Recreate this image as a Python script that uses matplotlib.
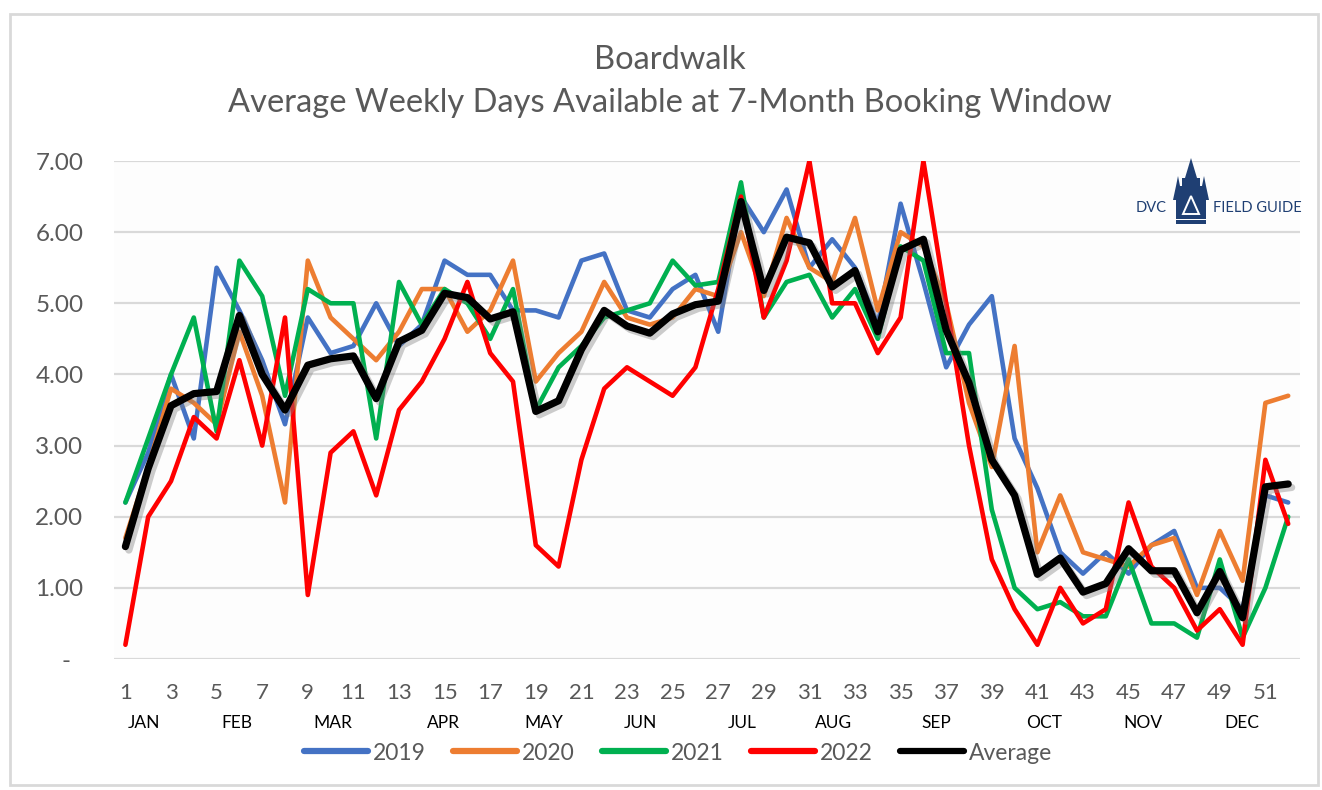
import matplotlib
matplotlib.use("Agg")
import matplotlib.pyplot as plt
import matplotlib.patheffects as pe
import matplotlib.transforms as mtransforms
from matplotlib.patches import Rectangle, Polygon

plt.rcParams['font.family'] = ['Lato', 'DejaVu Sans']

weeks = list(range(1, 53))

y2019 = [2.2, 2.9, 4.0, 3.1, 5.5, 4.9, 4.2, 3.3, 4.8, 4.3, 4.4, 5.0, 4.4, 4.7, 5.6, 5.4, 5.4,
         4.9, 4.9, 4.8, 5.6, 5.7, 4.9, 4.8, 5.2, 5.4, 4.6, 6.5, 6.0, 6.6, 5.5, 5.9, 5.5, 4.7,
         6.4, 5.3, 4.1, 4.7, 5.1, 3.1, 2.4, 1.5, 1.2, 1.5, 1.2, 1.6, 1.8, 1.0, 1.0, 0.7, 2.3, 2.2]
y2020 = [1.7, 2.7, 3.8, 3.6, 3.3, 4.6, 3.7, 2.2, 5.6, 4.8, 4.5, 4.2, 4.6, 5.2, 5.2, 4.6, 4.9,
         5.6, 3.9, 4.3, 4.6, 5.3, 4.8, 4.7, 4.8, 5.2, 5.1, 6.0, 5.1, 6.2, 5.5, 5.3, 6.2, 4.9,
         6.0, 5.8, 5.0, 3.6, 2.7, 4.4, 1.5, 2.3, 1.5, 1.4, 1.3, 1.6, 1.7, 0.9, 1.8, 1.1, 3.6, 3.7]
y2021 = [2.2, 3.1, 4.0, 4.8, 3.2, 5.6, 5.1, 3.7, 5.2, 5.0, 5.0, 3.1, 5.3, 4.7, 5.2, 5.0, 4.5,
         5.2, 3.5, 4.1, 4.4, 4.8, 4.9, 5.0, 5.6, 5.25, 5.3, 6.7, 4.8, 5.3, 5.4, 4.8, 5.2, 4.5,
         5.8, 5.6, 4.3, 4.3, 2.1, 1.0, 0.7, 0.8, 0.6, 0.6, 1.4, 0.5, 0.5, 0.3, 1.4, 0.3, 1.0, 2.0]
y2022 = [0.2, 2.0, 2.5, 3.4, 3.1, 4.2, 3.0, 4.8, 0.9, 2.9, 3.2, 2.3, 3.5, 3.9, 4.5, 5.3, 4.3,
         3.9, 1.6, 1.3, 2.8, 3.8, 4.1, 3.9, 3.7, 4.1, 5.2, 6.5, 4.8, 5.6, 7.0, 5.0, 5.0, 4.3,
         4.8, 7.0, 5.0, 3.0, 1.4, 0.7, 0.2, 1.0, 0.5, 0.7, 2.2, 1.3, 1.0, 0.4, 0.7, 0.2, 2.8, 1.9]
yavg = [1.58, 2.68, 3.56, 3.73, 3.76, 4.83, 4.0, 3.5, 4.13, 4.22, 4.26, 3.66, 4.46, 4.62, 5.14,
        5.08, 4.78, 4.88, 3.48, 3.63, 4.35, 4.9, 4.68, 4.58, 4.85, 4.98, 5.03, 6.43, 5.18, 5.93,
        5.85, 5.23, 5.46, 4.6, 5.75, 5.9, 4.62, 3.88, 2.8, 2.3, 1.19, 1.42, 0.94, 1.06, 1.55,
        1.24, 1.24, 0.65, 1.23, 0.58, 2.42, 2.46]

series_labels = ['2019', '2020', '2021', '2022', 'Average']
series_colors = ['#4472C4', '#ED7D31', '#00B050', '#FF0000', '#000000']

months = ['JAN', 'FEB', 'MAR', 'APR', 'MAY', 'JUN', 'JUL', 'AUG', 'SEP', 'OCT', 'NOV', 'DEC']
month_pos = [1.83, 5.87, 10.08, 14.95, 19.33, 23.6, 28.06, 32.05, 36.57, 41.3, 45.65, 49.95]

yticks = [0, 1, 2, 3, 4, 5, 6, 7]
ytick_labels = ['-  ', '1.00', '2.00', '3.00', '4.00', '5.00', '6.00', '7.00']

W, H = 1322, 790
fig = plt.figure(figsize=(W / 100, H / 100), dpi=100)
fig.patch.set_facecolor('white')

# outer chart frame
fig.patches.append(Rectangle((10 / W, 5 / H), 1308 / W, 771 / H, transform=fig.transFigure,
                             fill=False, edgecolor='#D9D9D9', linewidth=2))

ax = fig.add_axes([114 / W, (H - 659) / H, (1299.6 - 114) / W, (659 - 161) / H])
ax.set_facecolor('#FDFDFD')

all_series = [y2019, y2020, y2021, y2022, yavg]
handles = []
for i, (vals, lab, col) in enumerate(zip(all_series, series_labels, series_colors)):
    if lab == 'Average':
        ln, = ax.plot(weeks, vals, color=col, linewidth=5.2, label=lab, zorder=5,
                      solid_joinstyle='round', solid_capstyle='round',
                      path_effects=[pe.SimpleLineShadow(offset=(2.5, -2.5), shadow_color='gray', alpha=0.4),
                                    pe.Normal()])
    else:
        ln, = ax.plot(weeks, vals, color=col, linewidth=3.3, label=lab, zorder=2 + i * 0.1,
                      solid_joinstyle='round', solid_capstyle='round')
    handles.append(ln)

ax.set_xlim(0.5, 52.5)
ax.set_ylim(0, 7)
ax.set_yticks(yticks)
ax.set_yticklabels(ytick_labels)
ax.set_xticks(weeks[::2])
ax.set_xticklabels([str(w) for w in weeks[::2]])
ax.grid(axis='y', color='#D9D9D9', linewidth=1.6)
ax.set_axisbelow(True)
for s in ax.spines.values():
    s.set_visible(False)
ax.tick_params(axis='both', length=0, colors='#595959')
ax.tick_params(axis='y', pad=22, labelsize=17.5)
ax.tick_params(axis='x', pad=17, labelsize=16)
for t in ax.get_yticklabels() + ax.get_xticklabels():
    t.set_color('#595959')

# month labels
month_tr = ax.get_xaxis_transform() + mtransforms.ScaledTranslation(0, -64 / 100, fig.dpi_scale_trans)
for m, p in zip(months, month_pos):
    ax.text(p, 0, m, transform=month_tr, ha='center', va='center',
            fontsize=12.5, color='black', clip_on=False)

# titles
fig.text(670 / W, (H - 60) / H, 'Boardwalk', ha='center', va='center', fontsize=23.5, color='#595959')
fig.text(670 / W, (H - 103) / H, 'Average Weekly Days Available at 7-Month Booking Window',
         ha='center', va='center', fontsize=23.5, color='#595959')

# legend
leg = fig.legend(handles=handles, labels=series_labels, loc='center', ncol=5,
                 bbox_to_anchor=(678 / W, (H - 753) / H), frameon=False, fontsize=16.5,
                 handlelength=2.8, handletextpad=0.2, columnspacing=1.2)
for t in leg.get_texts():
    t.set_color('#595959')
for lh in leg.get_lines():
    lh.set_linewidth(4.5)
    lh.set_path_effects([])
    lh.set_solid_capstyle('round')

# DVC Field Guide logo
navy = '#1F3F73'
def P(x, y):
    return (x / W, (H - y) / H)
castle = [P(1176, 224), P(1176, 200), P(1173, 200), P(1176, 186), P(1178, 176), P(1180, 186),
          P(1182, 186), P(1182, 178), P(1185, 178), P(1188, 168), P(1191, 158), P(1194, 168),
          P(1197, 178), P(1200, 178), P(1200, 186), P(1202, 186), P(1204, 176), P(1206, 186),
          P(1209, 200), P(1206, 200), P(1206, 224)]
fig.patches.append(Polygon(castle, closed=True, transform=fig.transFigure, facecolor=navy, edgecolor='none'))
tri = [P(1191, 196), P(1183, 214), P(1199, 214)]
fig.patches.append(Polygon(tri, closed=True, transform=fig.transFigure, facecolor='none', edgecolor='white', linewidth=1.4))
fig.patches.append(Rectangle((1176 / W, (H - 220) / H), 30 / W, 1.2 / H, transform=fig.transFigure,
                             facecolor='white', edgecolor='none'))
fig.text(1167 / W, (H - 208) / H, 'DVC', ha='right', va='center', fontsize=10.5, color=navy)
fig.text(1213 / W, (H - 208) / H, 'FIELD GUIDE', ha='left', va='center', fontsize=10.5, color=navy)

fig.savefig('out.png', dpi=100, facecolor='white')
